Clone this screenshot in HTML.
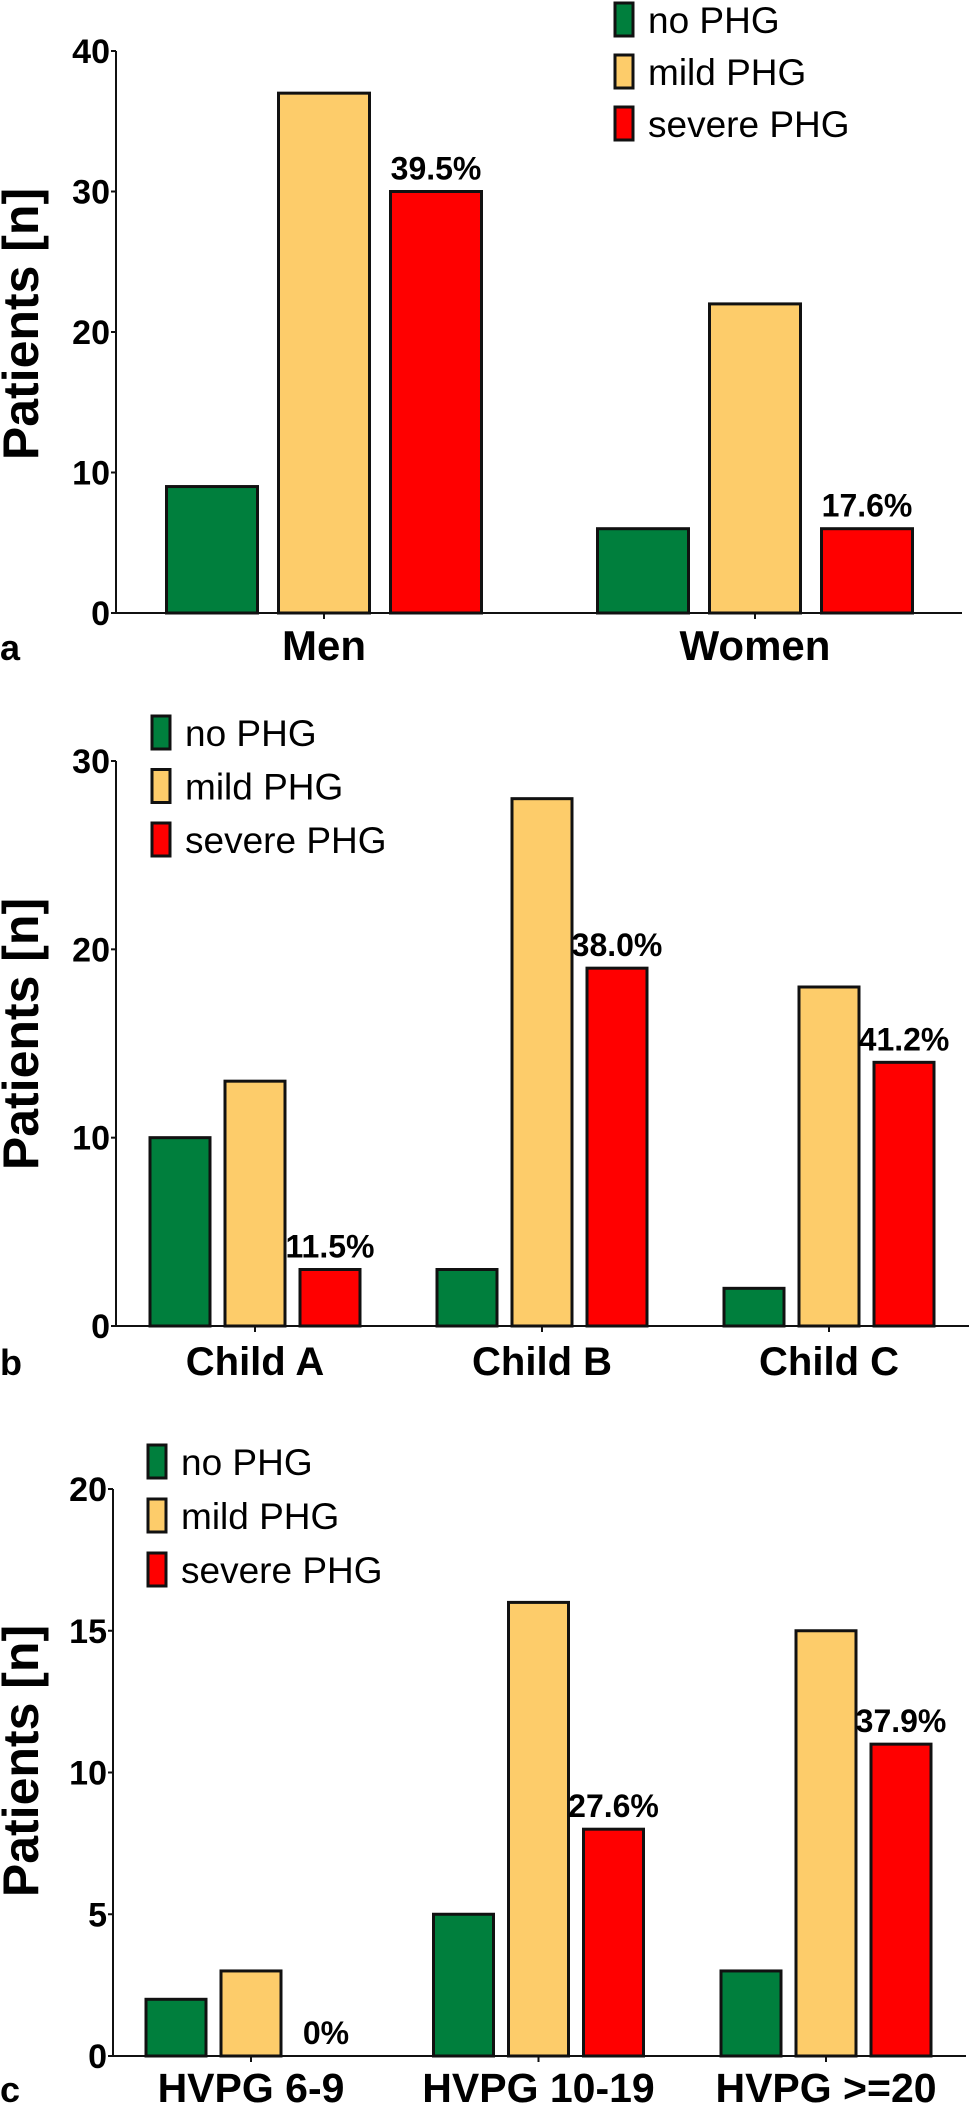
<!DOCTYPE html>
<html><head><meta charset="utf-8"><style>
html,body{margin:0;padding:0;background:#fff}
svg{display:block}
text{font-family:"Liberation Sans",Arial,sans-serif}
</style></head><body>
<svg id="fig" width="969" height="2105" viewBox="0 0 969 2105" xmlns="http://www.w3.org/2000/svg"></svg>
<script>
// Panel a data
const catsA = ["Men","Women"];
const noA = [9,6];
const mildA = [37,22];
const sevA = [30,6];
const pctA = ["39.5%","17.6%"];
const ticksA = [0,10,20,30,40];
// Panel b data
const catsB = ["Child A","Child B","Child C"];
const noB = [10,3,2];
const mildB = [13,28,18];
const sevB = [3,19,14];
const pctB = ["11.5%","38.0%","41.2%"];
const ticksB = [0,10,20,30];
// Panel c data
const catsC = ["HVPG 6-9","HVPG 10-19","HVPG >=20"];
const noC = [2,5,3];
const mildC = [3,16,15];
const sevC = [0,8,11];
const pctC = ["0%","27.6%","37.9%"];
const ticksC = [0,5,10,15,20];
const seriesNames = ["no PHG","mild PHG","severe PHG"];
const colors = ["#007f3d","#fdcc6a","#ff0000"];

const NS = "http://www.w3.org/2000/svg";
const svg = document.getElementById("fig");
function mk(tag, attrs, parent){
  const e = document.createElementNS(NS, tag);
  for (const k in attrs) e.setAttribute(k, attrs[k]);
  (parent||svg).appendChild(e);
  return e;
}
function txt(s, x, y, size, weight, anchor, sx, parent){
  const t = mk("text", {transform:`translate(${x},${y}) scale(${sx},1)`, "font-size":size, "font-weight":weight, "text-anchor":anchor, fill:"#000"}, parent);
  t.textContent = s;
  return t;
}

function panel(cfg){
  const g = mk("g", {});
  
  
  const y = v => cfg.y0 - v / cfg.ymax * (cfg.y0 - cfg.ytop);
  const ax = mk("line", {x1:cfg.ax, x2:cfg.ax, y1:cfg.ytop, y2:cfg.y0, stroke:"#111", "stroke-width":2}, g);
  
  
  const xa = mk("line", {x1:cfg.ax, x2:cfg.axEnd, y1:cfg.y0, y2:cfg.y0, stroke:"#111", "stroke-width":2}, g);
  
  
  cfg.ticks.forEach(tv => {
    const ty = y(tv);
    mk("line", {x1:cfg.ax-5, x2:cfg.ax, y1:ty, y2:ty, stroke:"#111", "stroke-width":2}, g);
    const t = txt(String(tv), cfg.ax-6, ty+12, 34, "bold", "end", 1, g);
    
    
  });
  const yt = mk("text", {transform:`translate(${cfg.titleX},${cfg.titleY}) rotate(-90)`, "font-size":50, "font-weight":"bold", "text-anchor":"middle"}, g);
  yt.textContent = "Patients [n]";
  
  
  const series = [cfg.no, cfg.mild, cfg.sev];
  cfg.cats.forEach((c, i) => {
    const cx = cfg.catX0 + i * cfg.catStep;
    mk("line", {x1:cx, x2:cx, y1:cfg.y0, y2:cfg.y0+6, stroke:"#111", "stroke-width":2}, g);
    series.forEach((s, j) => {
      const bx = cx + (j - 1) * cfg.barStep - cfg.barW/2;
      const v = s[i];
      if (v > 0) {
        const r = mk("rect", {x:bx, y:y(v), width:cfg.barW, height:cfg.y0 - y(v), fill:colors[j], stroke:"#111", "stroke-width":3}, g);
        
        
      }
      if (j === 2) {
        const lt = txt(cfg.pct[i], bx + cfg.barW/2, y(v) - 12, 32, "bold", "middle", 1, g);
        
        
      }
    });
    const cl = txt(c, cx, cfg.catLabelY, cfg.catSize, "bold", "middle", 1, g);
    
    
  });
  seriesNames.forEach((n, j) => {
    const ly = cfg.legY + j * cfg.legStep;
    const sq = mk("rect", {x:cfg.legX, y:ly, width:18, height:33, fill:colors[j], stroke:"#111", "stroke-width":3}, g);
    
    
    const lt = txt(n, cfg.legX + 33, ly + 30, 37, "normal", "start", 1, g);
    
    
  });
  const pl = txt(cfg.letter, 0, cfg.catLabelY, 36, "bold", "start", 1, g);
  
  
}

panel({name:"panel-a-gender", cats:catsA, no:noA, mild:mildA, sev:sevA, pct:pctA, ticks:ticksA, ymax:40,
  ax:116, axEnd:962, y0:613, ytop:51, catX0:324, catStep:431, barStep:112, barW:91,
  catLabelY:660, catSize:42, titleX:38, titleY:324, legX:615, legY:3, legStep:52, letter:"a"});
panel({name:"panel-b-child", cats:catsB, no:noB, mild:mildB, sev:sevB, pct:pctB, ticks:ticksB, ymax:30,
  ax:116, axEnd:969, y0:1326, ytop:761, catX0:255, catStep:287, barStep:75, barW:60,
  catLabelY:1375, catSize:40, titleX:38, titleY:1034, legX:152, legY:716, legStep:53.5, letter:"b"});
panel({name:"panel-c-hvpg", cats:catsC, no:noC, mild:mildC, sev:sevC, pct:pctC, ticks:ticksC, ymax:20,
  ax:113, axEnd:966, y0:2056, ytop:1489, catX0:251, catStep:287.5, barStep:75, barW:60,
  catLabelY:2102, catSize:41, titleX:38, titleY:1761, legX:148, legY:1445, legStep:54, letter:"c"});
</script>
</body></html>
